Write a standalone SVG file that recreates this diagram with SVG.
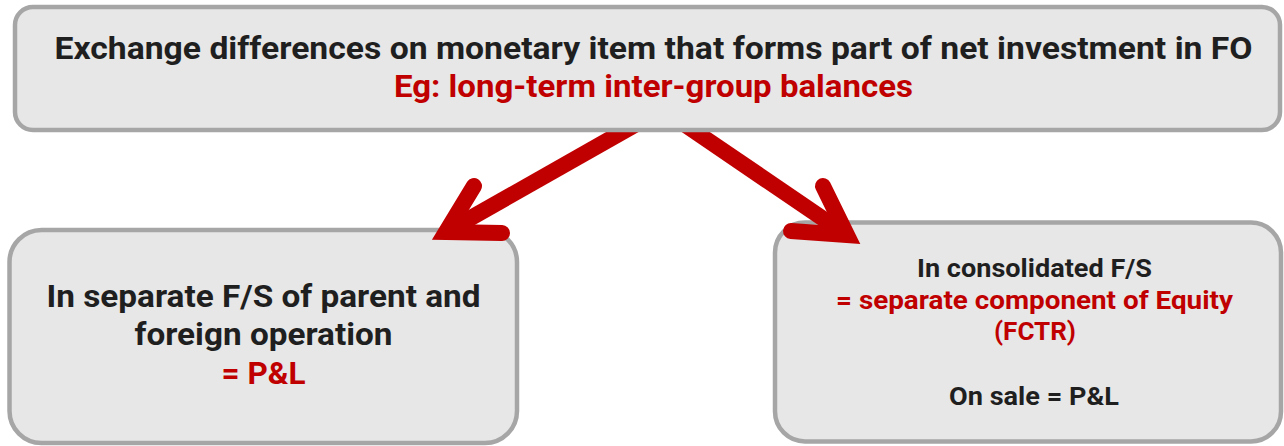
<svg xmlns="http://www.w3.org/2000/svg" width="1284" height="446" viewBox="0 0 1284 446">
<style>
.box{fill:#e7e7e7;stroke:#a6a6a6;stroke-width:4.5}
.t{font-family:Roboto,"Liberation Sans","DejaVu Sans",sans-serif;font-weight:700;text-anchor:middle;fill:#1f1f1f}
.big{font-size:32px}
.sm{font-size:26.5px}
.red{fill:#c00000}
.shaft{fill:none;stroke:#c00000;stroke-width:16;stroke-linecap:butt}
.head{fill:none;stroke:#c00000;stroke-width:16;stroke-linejoin:miter;stroke-linecap:round;stroke-miterlimit:6}
</style>
<rect width="1284" height="446" fill="#ffffff"/>
<g id="node-left">
<rect class="box" x="9.5" y="230" width="507.5" height="213" rx="32"/>
<text class="t big" x="263.5" y="307" textLength="434" lengthAdjust="spacingAndGlyphs">In separate F/S of parent and</text>
<text class="t big" x="263.5" y="345" textLength="258" lengthAdjust="spacingAndGlyphs">foreign operation</text>
<text class="t big red" x="263.5" y="384" textLength="84" lengthAdjust="spacingAndGlyphs">= P&amp;L</text>
</g>
<g id="node-right">
<rect class="box" x="775" y="222.5" width="506" height="219" rx="30"/>
<text class="t sm" x="1034.5" y="277" textLength="235" lengthAdjust="spacingAndGlyphs">In consolidated F/S</text>
<text class="t sm red" x="1034.5" y="309" textLength="397" lengthAdjust="spacingAndGlyphs">= separate component of Equity</text>
<text class="t sm red" x="1035" y="340" textLength="82" lengthAdjust="spacingAndGlyphs">(FCTR)</text>
<text class="t sm" x="1034" y="405" textLength="170" lengthAdjust="spacingAndGlyphs">On sale = P&amp;L</text>
</g>
<g id="connectors">
<path class="shaft" d="M640,122 L446,232"/>
<path class="head" d="M474,186 L446,232 L502,233"/>
<path class="shaft" d="M681,122 L847,235"/>
<path class="head" d="M823,186 L847,235 L791,231"/>
</g>
<g id="node-top">
<rect class="box" x="15" y="7" width="1265" height="123" rx="18"/>
<text class="t big" x="653.5" y="59" textLength="1198" lengthAdjust="spacingAndGlyphs">Exchange differences on monetary item that forms part of net investment in FO</text>
<text class="t big red" x="653.5" y="97" textLength="519" lengthAdjust="spacingAndGlyphs">Eg: long-term inter-group balances</text>
</g>
</svg>
